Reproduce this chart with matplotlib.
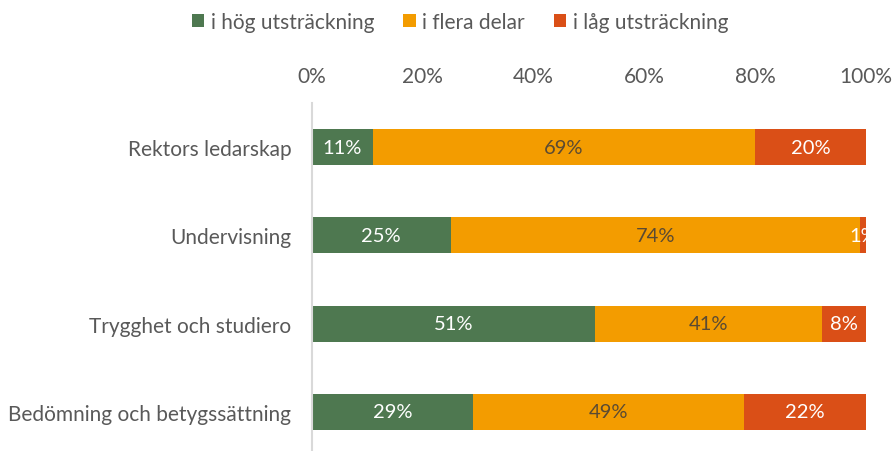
import matplotlib.pyplot as plt

kategorier = ['Rektors ledarskap', 'Undervisning', 'Trygghet och studiero', 'Bedömning och betygssättning']
serier = ['i hög utsträckning', 'i flera delar', 'i låg utsträckning']
hog = [11, 25, 51, 29]
flera = [69, 74, 41, 49]
lag = [20, 1, 8, 22]
ticks = [0, 20, 40, 60, 80, 100]

farger = ['#4E7850', '#F39C00', '#DA4F17']
textfarger = ['white', '#5A4A33', 'white']

plt.rcParams['font.family'] = ['Lato', 'DejaVu Sans']

fig = plt.figure(figsize=(8.93, 4.52), dpi=100)
ax = fig.add_axes([312 / 893, 0, (866 - 312) / 893, (452 - 104) / 452])

y = list(range(len(kategorier)))
left = [0] * len(kategorier)
for namn, varden, farg, tf in zip(serier, [hog, flera, lag], farger, textfarger):
    bars = ax.barh(y, varden, left=left, height=0.41, color=farg, label=namn)
    for b, v in zip(bars, varden):
        ax.text(b.get_x() + b.get_width() / 2, b.get_y() + b.get_height() / 2,
                f'{v}%', ha='center', va='center', color=tf, fontsize=14.5)
    left = [l + v for l, v in zip(left, varden)]

ax.set_xlim(0, 100)
ax.set_ylim(3.5 - 5 / 88, -0.5)
ax.set_yticks(y)
ax.set_yticklabels(kategorier, fontsize=15, color='#595959')
ax.xaxis.tick_top()
ax.set_xticks(ticks)
ax.set_xticklabels([f'{t}%' for t in ticks], fontsize=15, color='#595959')
ax.tick_params(axis='y', length=0, pad=15)
ax.tick_params(axis='x', length=0, pad=12)
for s in ['top', 'right', 'bottom']:
    ax.spines[s].set_visible(False)
ax.spines['left'].set_color('#D9D9D9')
ax.spines['left'].set_linewidth(1.5)

fig.legend(loc='center', bbox_to_anchor=(460 / 893, 1 - 23 / 452), ncol=3, frameon=False,
           fontsize=15, labelcolor='#595959', handlelength=0.6, handleheight=0.6,
           handletextpad=0.3, columnspacing=1.4)

fig.savefig('out.png', dpi=100)
